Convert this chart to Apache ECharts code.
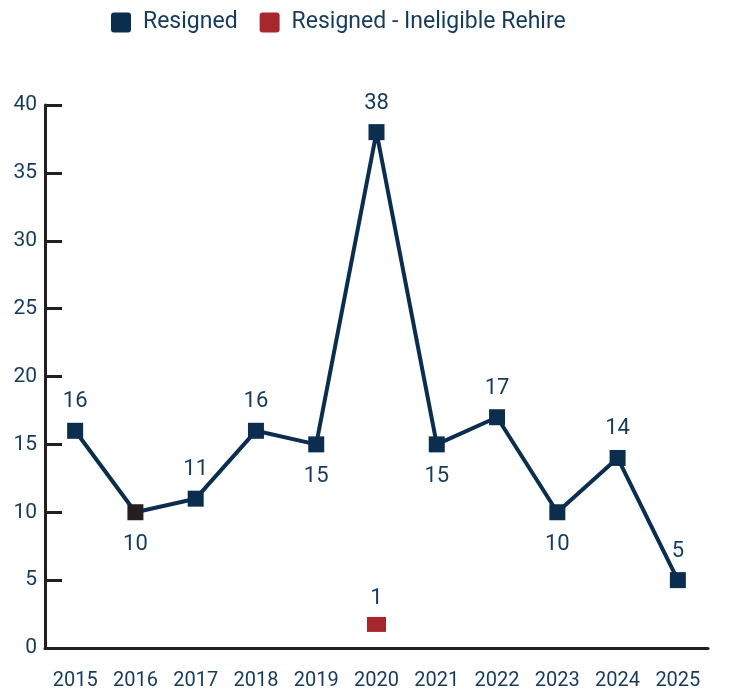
<!DOCTYPE html>
<html><head><meta charset="utf-8">
<script src="https://cdn.jsdelivr.net/npm/echarts@6/dist/echarts.min.js"></script>
<style>html,body{margin:0;padding:0;background:#fff}#c{width:734px;height:693px}</style>
</head><body><div id="c"></div>
<script>
const years = ['2015','2016','2017','2018','2019','2020','2021','2022','2023','2024','2025'];
const resigned = [16,10,11,16,15,38,15,17,10,14,5];
const ineligible = ['-','-','-','-','-',1,'-','-','-','-','-'];
const belowIdx = [1,4,6,8];
const yTicks = {min:0, max:40, interval:5};

const navy = '#0b2e4f';
const textC = '#163a5a';
const axisC = '#231f20';
const red = '#a6282d';
const font = 'Roboto';

const resData = resigned.map((v,i)=>{
  const d = {value:v};
  if (belowIdx.includes(i)) d.label = {position:'bottom', distance:13};
  if (i===1) d.itemStyle = {color:axisC};
  return d;
});

const chart = echarts.init(document.getElementById('c'));
chart.setOption({
  animation:false,
  textStyle:{fontFamily:font},
  legend:{
    top:6, left:106, itemWidth:20, itemHeight:20, itemGap:22,
    icon:'path://M3,0 L17,0 Q20,0 20,3 L20,17 Q20,20 17,20 L3,20 Q0,20 0,17 L0,3 Q0,0 3,0 Z',
    textStyle:{fontSize:23, color:textC, fontFamily:font, padding:[0,0,0,7]},
    data:['Resigned','Resigned - Ineligible Rehire']
  },
  grid:{left:45, right:26, top:105, bottom:45},
  xAxis:{
    type:'category', data:years, boundaryGap:true,
    axisLine:{lineStyle:{color:axisC, width:3}},
    axisTick:{inside:true, length:14, lineStyle:{color:axisC, width:3}},
    axisLabel:{color:textC, fontSize:20, margin:23, fontFamily:font}
  },
  yAxis:{
    type:'value', min:yTicks.min, max:yTicks.max, interval:yTicks.interval,
    splitLine:{show:false},
    axisLine:{show:true, lineStyle:{color:axisC, width:3}},
    axisTick:{show:true, inside:true, length:17, lineStyle:{color:axisC, width:3}},
    axisLabel:{color:textC, fontSize:21, margin:8, fontFamily:font}
  },
  series:[
    {
      name:'Resigned', type:'line', data:resData,
      symbol:'rect', symbolSize:16,
      lineStyle:{color:navy, width:4},
      itemStyle:{color:navy},
      label:{show:true, position:'top', distance:10, color:textC, fontSize:22, fontFamily:font},
      z:3
    },
    {
      name:'Resigned - Ineligible Rehire', type:'line', data:ineligible,
      symbol:'rect', symbolSize:[19,15], symbolOffset:[0,-10],
      lineStyle:{width:0},
      itemStyle:{color:red},
      label:{show:true, position:'top', distance:7, color:textC, fontSize:22, fontFamily:font},
      showSymbol:true
    }
  ]
});
</script></body></html>
